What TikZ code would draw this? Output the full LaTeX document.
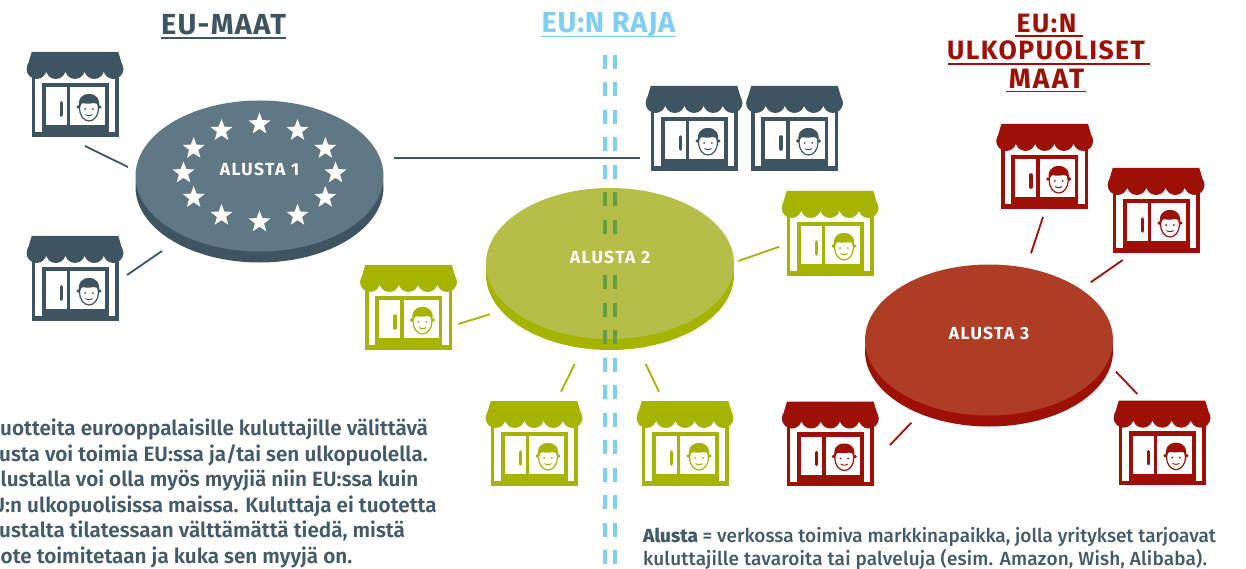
\documentclass[tikz,border=0pt]{standalone}
\usepackage{fontspec}
\setmainfont{Fira Sans}
\newfontfamily\notefont{Fira Sans Medium}
\newfontfamily\leftfont{Fira Sans SemiBold}
\usetikzlibrary{shapes.geometric}
\definecolor{slatedark}{HTML}{3E5561}
\definecolor{slatetop}{HTML}{607784}
\definecolor{oliveshop}{HTML}{A4B400}
\definecolor{olivetop}{HTML}{B5BE48}
\definecolor{redshop}{HTML}{9C1006}
\definecolor{redtop}{HTML}{AE3D26}
\definecolor{rajablue}{HTML}{80CEF2}
\definecolor{rajagreen}{HTML}{629E44}
\definecolor{notetext}{HTML}{435A68}
\tikzset{
	shopbox/.style={anchor=north west, inner sep=0pt, minimum width=96pt, minimum height=85pt},
	alustadisk/.style={ellipse, inner sep=0pt, outer sep=0pt, minimum width=248pt, minimum height=151pt},
	alustalabel/.style={text=white, inner sep=0pt, font=\bfseries\fontsize{17.5}{17.5}\selectfont\addfontfeature{LetterSpace=8}},
	heading/.style={anchor=base, inner sep=0pt, font=\bfseries\fontsize{29}{29}\selectfont},
	redheading/.style={anchor=base, inner sep=0pt, text=redshop, font=\bfseries\fontsize{26.5}{26.5}\selectfont},
	noteline/.style={anchor=base west, inner sep=0pt, text=notetext, font=\notefont\fontsize{19}{19}\selectfont},
	leftline/.style={anchor=base west, inner sep=0pt, text=notetext, font=\leftfont\fontsize{20.7}{20.7}\selectfont},
	eustar/.style={star, star points=5, star point ratio=2.4, fill=white, inner sep=0pt, minimum size=23pt},
	pics/shop/.style={code={
		% 84.7 = 85 minus the blur of the edge
		\fill[#1] (4.7,15) rectangle (91.7,84.7);
		\fill[white] (8,20) rectangle (88,80);
		\fill[#1] (14.7,30.7) rectangle (81.7,84.7);
		\fill[white] (18.7,35) rectangle (39.7,73);
		\fill[white] (43.3,35) rectangle (78,73);
		\draw[#1, line width=3.6pt, line cap=round] (34.3,51) -- (34.3,63);
		% 19.2 = 96/5
		\fill[#1] (4.7,0) -- (91.3,0) -- (96,16) -- (96,19) -- (0,19) -- (0,16) -- cycle;
		\foreach \lobe in {0,...,4}{
			\fill[#1] ({9.6+\lobe*19.2},17) circle (10);
			}
		% the face
		\draw[#1, fill=white, line width=1.2pt] (62,56.5) ellipse (9.5 and 12.5);
		\fill[#1] (51.2,55) circle (1.8) (72.8,55) circle (1.8);
		\fill[#1] (52.3,56) .. controls (50.5,47) and (54.5,42) .. (62,42) .. controls (69.5,42) and (73.5,47) .. (71.7,56)
			.. controls (70.8,52) and (69.5,50.5) .. (66.5,51) .. controls (62,52.5) and (57.5,51) .. (55,51.5) .. controls (54,52) and (53,54) .. (52.3,56) -- cycle;
		\fill[#1] (58.2,57) circle (1) (65.8,57) circle (1);
		\draw[#1, line width=0.9pt] (58.5,62.5) .. controls (60,64) and (64,64) .. (65.5,62.5);
		}}
}
\begin{document}
\begin{tikzpicture}[x=1pt,y=-1pt]
\clip (0,0) rectangle (1246,569);
% 11 = height of the rim
\foreach \disk/\x/\y/\rim/\top in {alustaA/259.5/176/slatedark/slatetop,alustaB/610/263.5/oliveshop/olivetop,alustaC/989/340/redshop/redtop}{
	\node[alustadisk, fill=\rim] (\disk rim) at (\x,{\y+11}) {};
	\node[alustadisk, fill=\top] (\disk) at (\x,\y) {};
	}
% 30 = 360/12
\foreach \n in {0,...,11}{
	\node[eustar] (star\n) at ({259.5+76*cos(\n*30)},{173+49*sin(\n*30)}) {};
	}
\node[alustalabel] (labelA) at ([yshift=6.5pt]alustaA) {ALUSTA 1};
\node[alustalabel] (labelB) at ([yshift=6.5pt]alustaB) {ALUSTA 2};
\node[alustalabel] (labelC) at ([yshift=6.5pt]alustaC) {ALUSTA 3};
% 27.5 = 14+13.5, the seventh pair sits under ALUSTA 2
\foreach \dash in {0,...,18}{
	\pgfmathsetmacro\dashy{55+\dash*27.5}
	\ifnum\dash=7\else
	\ifnum\dash>4\ifnum\dash<11\def\dashcol{rajagreen}\else\def\dashcol{rajablue}\fi\else\def\dashcol{rajablue}\fi
	\foreach \dashx in {605,615}{
		\fill[\dashcol] ({\dashx-2},\dashy) rectangle ({\dashx+2},{\dashy+14});
		}
	\fi
	}
\foreach \shopname/\x/\y/\c in {shopA/27/52/slatedark,shopB/27/236/slatedark,shopC/646/86/slatedark,shopD/746.5/86/slatedark,
	shopE/782/191/oliveshop,shopF/360.5/265/oliveshop,shopG/486/401/oliveshop,shopH/637/401/oliveshop,
	shopI/996.7/124/redshop,shopJ/1108/168/redshop,shopK/782.3/401.5/redshop,shopL/1114/400.7/redshop}{
	\node[shopbox] (\shopname) at (\x,\y) {};
	\pic at (\shopname.north west) {shop=\c};
	}
\foreach \shopname/\sx/\sy/\disk/\dx/\dy/\c in {shopA/58/94/alustaA/-131.5/-9/slatedark,
	shopB/100/39/alustaA/-97.5/75/slatedark,
	shopC/-6/72/alustaA/134.5/-18/slatedark,
	shopE/-2.7/55.7/alustaB/128.3/-2.5/oliveshop,
	shopF/97.8/59/alustaB/-120/50.8/oliveshop,
	shopG/75/-9.3/alustaB/-35.3/100.5/oliveshop,
	shopH/22/-9.3/alustaB/35.7/100.5/oliveshop,
	shopI/46.3/93/alustaC/42/-86.7/redshop,
	shopJ/14.7/92/alustaC/101.7/-57.7/redshop,
	shopK/107.7/43.5/alustaC/-77.7/82.7/redshop,
	shopL/23.3/-6.7/alustaC/127/31.7/redshop}{
	\draw[\c, line width=1.8pt] ([shift={(\sx,\sy)}]\shopname.north west) -- ([shift={(\dx,\dy)}]\disk.center);
	}
% headings and their rules
\node[heading, text=slatedark] (headA) at (223.5,34.5) {\addfontfeature{LetterSpace=4.5}EU-MAAT};
\draw[slatedark, line width=1.2pt] (161,38) -- (286,38);
\node[heading, text=rajablue] (headB) at (608.5,33) {\addfontfeature{LetterSpace=2.5}EU:N RAJA};
\draw[rajablue, line width=1.2pt] (541,36.5) -- (676,36.5);
\node[redheading] (headC) at (1046.5,32.5) {\addfontfeature{LetterSpace=6}EU:N};
\draw[redshop, line width=1.2pt] (1015,36) -- (1083,36);
\node[redheading] (headD) at (1046,59.5) {\addfontfeature{LetterSpace=5.5}ULKOPUOLISET};
\draw[redshop, line width=1.2pt] (948,64) -- (1150,64);
\node[redheading] (headE) at (1046.5,88.5) {\fontsize{28}{28}\selectfont\addfontfeature{LetterSpace=8}MAAT};
\draw[redshop, line width=1.2pt] (1006,91.5) -- (1086,91.5);
% the text at the left runs off the page
\foreach \n/\x/\y/\txt in {1/0/435.5/{uotteita eurooppalaisille kuluttajille välittävä},
	2/-1/461/{usta voi toimia EU:ssa ja/tai sen ulkopuolella.},
	3/0.5/486.5/{lustalla voi olla myös myyjiä niin EU:ssa kuin},
	4/-8.5/512/{U:n ulkopuolisissa maissa. Kuluttaja ei tuotetta},
	5/-1/537.5/{ustalta tilatessaan välttämättä tiedä, mistä},
	6/0.5/563/{ote toimitetaan ja kuka sen myyjä on.}}{
	\node[leftline] (leftnote\n) at (\x,\y) {\txt};
	}
\node[noteline] (rightnoteA) at (643,542) {{\bfseries Alusta} = verkossa toimiva markkinapaikka, jolla yritykset tarjoavat};
\node[noteline] (rightnoteB) at (643,565.5) {\addfontfeature{LetterSpace=0.9}kuluttajille tavaroita tai palveluja (esim. Amazon, Wish, Alibaba).};
\end{tikzpicture}
\end{document}
